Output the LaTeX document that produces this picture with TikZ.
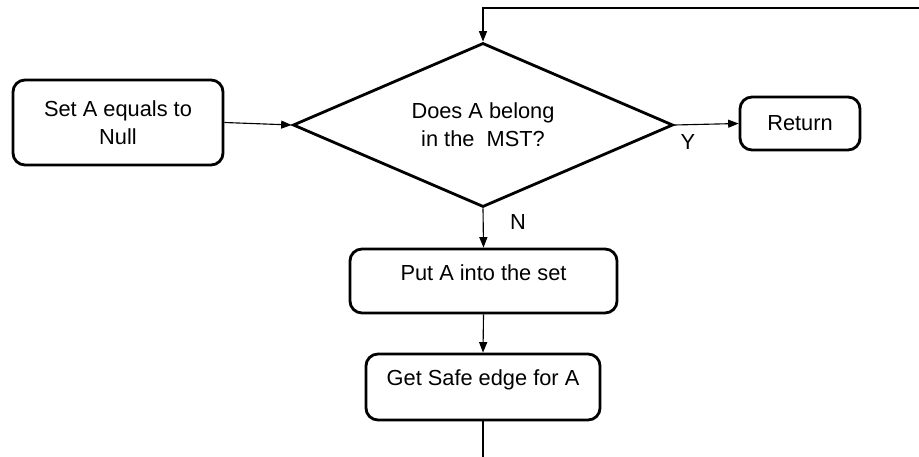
\documentclass[tikz,border=0pt]{standalone}
\usepackage{fontspec}
\setmainfont{Liberation Sans}
\usetikzlibrary{shapes.geometric,arrows.meta}

\tikzset{
  box/.style={draw, line width=2pt, rounded corners=0.3cm, align=center, inner sep=0pt},
  decision/.style={draw, diamond, aspect=2.3, line width=2pt, align=center, inner sep=0pt},
  flow/.style={line width=0.8pt, -{Triangle[length=2.6mm,width=2mm]}}
}

\begin{document}
\begin{tikzpicture}[x=0.025cm, y=-0.025cm, font=\fontsize{15.5}{20}\selectfont]
\useasboundingbox (0,0) rectangle (919,457);
% 画方框
\node[box, minimum width=5.25cm, minimum height=2.125cm] (null) at (118,122.5) {Set A equals to\\Null};
\node[decision, minimum width=9.5cm, minimum height=4.1cm] (mst) at (483,125) {Does A belong\\in the\ \ MST?};
\node[box, minimum width=3cm, minimum height=1.325cm] (ret) at (800,123.5) {Return};
\node[box, minimum width=6.675cm, minimum height=1.6cm, text height=0.4cm, text depth=0.4cm] (put) at (483.5,281) {Put A into the set};
\node[box, minimum width=5.85cm, minimum height=1.65cm, text height=0.4cm, text depth=0.45cm] (safe) at (483,387) {Get Safe edge for A};

% 画连线
\coordinate (loop) at (919,8);
\coordinate (down) at (483,457);
\draw[flow] (null.east) -- (mst.west);
\draw[flow] (mst.east) -- (ret.west);
\draw[flow] (mst.south) -- (put.north);
\draw[flow] (put.south) -- (safe.north);
\draw[flow] (loop) -| (mst.north);
\draw[line width=0.8pt] (safe.south) -- (down);

\node (yes) at (688,142) {Y};
\node (no) at (518,222) {N};
\end{tikzpicture}
\end{document}
